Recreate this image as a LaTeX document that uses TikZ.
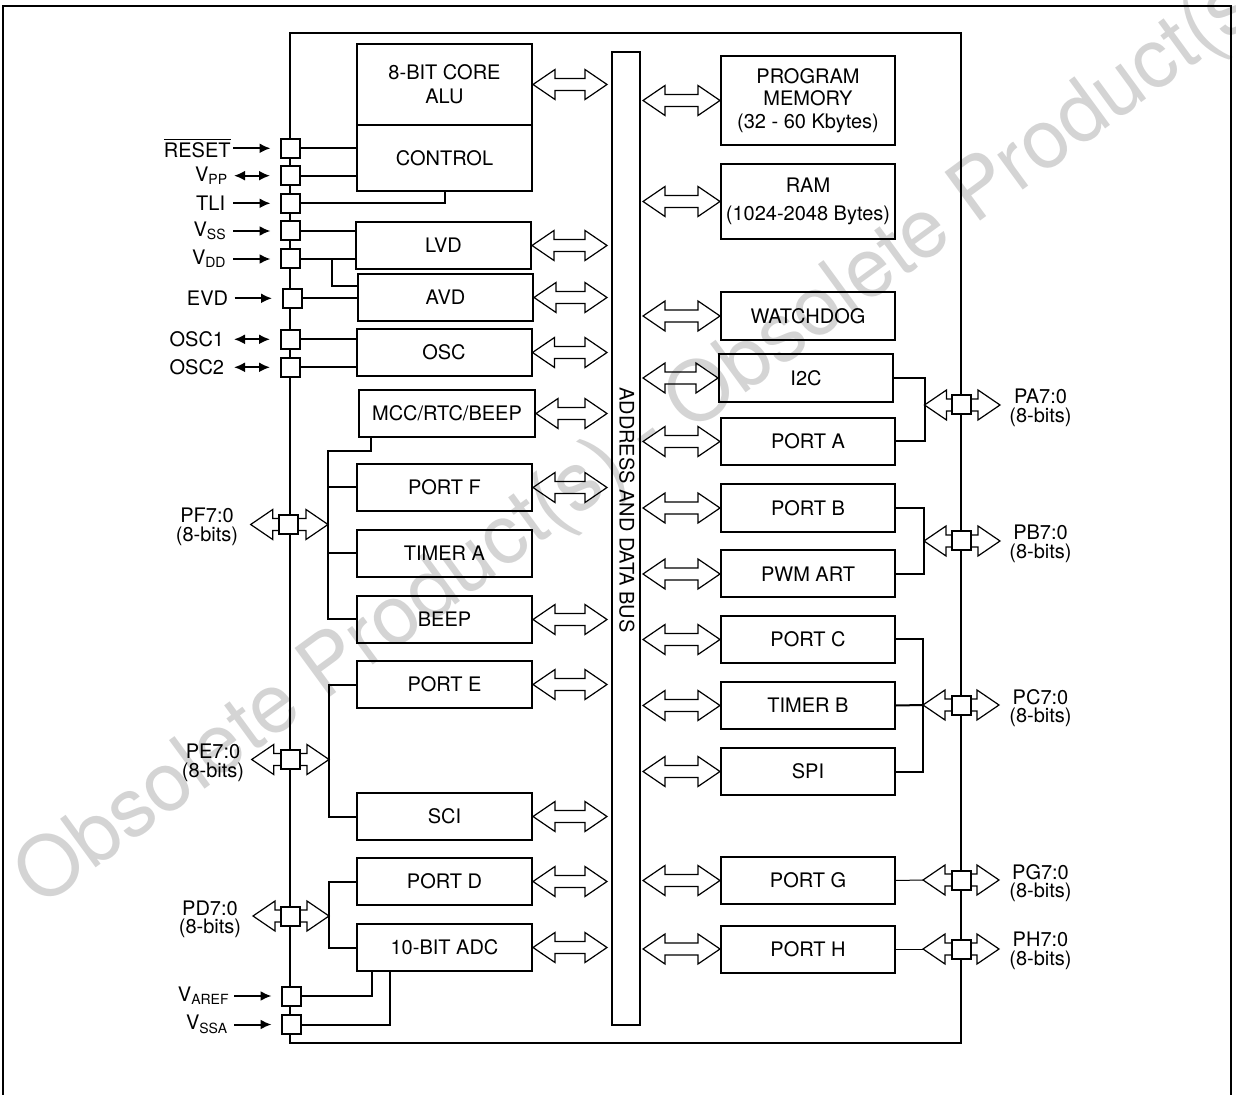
\documentclass[tikz,border=0pt]{standalone}
\usepackage{fontspec}
\setmainfont{TeX Gyre Heros}
\usepackage{tikz}
\usetikzlibrary{calc,arrows.meta,positioning}
\definecolor{wmgray}{HTML}{D4D4D4}
\tikzset{
  blk/.style={draw,line width=1pt,minimum width=87.5pt,minimum height=23.5pt,inner sep=0pt,align=center,font=\fontsize{10}{12}\selectfont},
  rblk/.style={blk,minimum width=87pt},
  pin/.style={draw,line width=1pt,fill=white,minimum size=9.5pt,inner sep=0pt},
  lbl/.style={inner sep=0pt,font=\fontsize{10}{12}\selectfont},
  plbl/.style={inner sep=0pt,align=center,font=\fontsize{10}{9.3}\selectfont},
  ar/.style={line width=1pt,-{Latex[length=5.5pt,width=5pt]}},
  dar/.style={line width=1pt,{Latex[length=5.5pt,width=5pt]}-{Latex[length=5.5pt,width=5pt]}},
  wire/.style={line width=1pt}
}
% hollow double arrow between two points (same height)
\newcommand{\hollowar}[2]{%
  \draw[line width=0.6pt,line join=miter] let \p1=#1, \p2=#2 in
    (\x1,\y1) -- ++(11pt,7.5pt) -- ++(0pt,-4.5pt) -- ($(\x2,\y1)+(-11pt,3pt)$) -- ++(0pt,4.5pt)
    -- (\x2,\y1) -- ++(-11pt,-7.5pt) -- ++(0pt,4.5pt) -- ($(\x1,\y1)+(11pt,-3pt)$) -- ++(0pt,-4.5pt) -- cycle;}

\begin{document}
\begin{tikzpicture}[x=0.5pt,y=-0.5pt]
\useasboundingbox (0,0) rectangle (1236,1095);
% watermark
\node[wmgray,rotate=36.2,inner sep=0pt,font=\fontsize{41.3}{43}\selectfont] (wm) at (648,437) {Obsolete Product(s) - Obsolete Product(s)};
% frame and chip outline
\draw[line width=0.6pt] (3,1100) -- (3,6) -- (1231,6) -- (1231,1100);
\draw[wire] (290,33) rectangle (961,1043);

% bus
\node[draw,line width=1pt,minimum width=14pt,minimum height=486.5pt,inner sep=0pt] (bus) at (626,538.5) {};
\node[lbl,rotate=-90] (buslbl) at (627,510) {ADDRESS AND DATA BUS};

% left blocks
\node[blk,minimum height=40.5pt] (core) at (444.5,84.5) {8-BIT CORE\\ALU};
\node[blk,minimum height=33pt] (ctrl) at (444.5,158) {CONTROL};
\node[blk] (lvd) at (443.5,245.5) {LVD};
\node[blk] (avd) at (445.5,297.5) {AVD};
\node[blk] (osc) at (444,352.5) {OSC};
\node[blk,minimum width=88pt] (mcc) at (447,413.5) {MCC/RTC/BEEP};
\node[blk] (portf) at (444.5,487.5) {PORT F};
\node[blk] (tima) at (444.5,553.5) {TIMER A};
\node[blk] (beep) at (444.5,619.5) {BEEP};
\node[blk] (porte) at (444.5,684.5) {PORT E};
\node[blk] (sci) at (444.5,816.5) {SCI};
\node[blk] (portd) at (444.5,881.5) {PORT D};
\node[blk] (adc) at (444.5,947.5) {10-BIT ADC};

% right blocks
\node[rblk,minimum height=44.5pt,font=\fontsize{10}{11.3}\selectfont] (pmem) at (808,100.5) {PROGRAM\\MEMORY\\(32 - 60 Kbytes)};
\node[rblk,minimum height=37.5pt] (ram) at (808,201.5) {RAM\\[2pt](1024-2048 Bytes)};
\node[rblk,minimum height=24pt] (wdog) at (808,316) {WATCHDOG};
\node[rblk,minimum height=24pt] (i2c) at (806,378) {I2C};
\node[rblk] (porta) at (808,441.5) {PORT A};
\node[rblk,minimum height=24pt] (portb) at (808,508) {PORT B};
\node[rblk] (pwm) at (808,574) {PWM ART};
\node[rblk] (portc) at (808,639.5) {PORT C};
\node[rblk] (timb) at (808,705.5) {TIMER B};
\node[rblk] (spi) at (808,771.5) {SPI};
\node[rblk] (portg) at (808,880.5) {PORT G};
\node[rblk] (porth) at (808,949) {PORT H};

% bus arrows
\foreach \b in {core,lvd,avd,osc,mcc,portf,beep,porte,sci,portd,adc}
  {\hollowar{(\b.east)}{([xshift=-2pt]bus.west |- \b.east)}}
\foreach \b in {pmem,ram,wdog,i2c,porta,portb,pwm,portc,timb,spi,portg,porth}
  {\hollowar{([xshift=1pt]bus.east |- \b.west)}{(\b.west)}}

% port junctions
\coordinate (pftop) at (328,451);
\coordinate (pfl) at (250.7,524.5);
\coordinate (pej) at (329,759.5);
\coordinate (pel) at (251.7,759.5);
\coordinate (pdj) at (329,916);
\coordinate (pdl) at (253,916);
\coordinate (paj) at (924.5,405);
\coordinate (par) at (1000,405);
\coordinate (pbj) at (924,541);
\coordinate (pbr) at (1000,541);
\coordinate (pcj) at (923,705);
\coordinate (pcr) at (999,705);
\coordinate (pgj) at (923,880);
\coordinate (pgr) at (999,880);
\coordinate (phj) at (923,949);
\coordinate (phr) at (999,949);
\coordinate (vddj) at (331.5,259);

\hollowar{(pfl)}{(pftop |- pfl)}
\hollowar{(pel)}{(pej)}
\hollowar{(pdl)}{(pdj)}
\hollowar{(paj)}{(par)}
\hollowar{(pbj)}{(pbr)}
\hollowar{(pcj)}{(pcr)}
\hollowar{(pgj)}{(pgr)}
\hollowar{(phj)}{(phr)}

% pins
\node[pin] (rst) at (290.5,148.3) {};
\node[pin] (vpp) at (290.5,175.7) {};
\node[pin] (tli) at (290.5,203.3) {};
\node[pin] (vss) at (290.5,231) {};
\node[pin] (vdd) at (290.5,259) {};
\node[pin] (evd) at (292,298.3) {};
\node[pin] (osc1) at (290.5,339.3) {};
\node[pin] (osc2) at (290.5,367.3) {};
\node[pin] (pf) at (288.5,524.5) {};
\node[pin] (pe) at (290.5,759.5) {};
\node[pin] (pd) at (290.5,916) {};
\node[pin] (vref) at (291.5,996) {};
\node[pin] (vssa) at (291.5,1024.5) {};
\node[pin] (pa) at (961.5,405) {};
\node[pin] (pb) at (961.5,541) {};
\node[pin] (pc) at (961.5,705) {};
\node[pin] (pg) at (961.5,880) {};
\node[pin] (ph) at (961.5,949) {};

% pin labels
\node[lbl,anchor=east] (rstlbl) at (231,148.3) {$\overline{\mbox{RESET}}$};
\node[lbl,anchor=east] (vpplbl) at (228.5,175.7) {V\textsubscript{PP}};
\node[lbl,anchor=east] (tlilbl) at (225.5,203.3) {TLI};
\node[lbl,anchor=east] (vsslbl) at (227,231) {V\textsubscript{SS}};
\node[lbl,anchor=east] (vddlbl) at (227,259) {V\textsubscript{DD}};
\node[lbl,anchor=east] (evdlbl) at (228.5,298.3) {EVD};
\node[lbl,anchor=east] (osc1lbl) at (224.5,339.3) {OSC1};
\node[lbl,anchor=east] (osc2lbl) at (224.5,367.3) {OSC2};
\node[lbl,anchor=east] (vreflbl) at (230,996) {V\textsubscript{AREF}};
\node[lbl,anchor=east] (vssalbl) at (228.5,1024.5) {V\textsubscript{SSA}};
\node[plbl] (pflbl) at (207,527) {PF7:0\\(8-bits)};
\node[plbl] (pelbl) at (213,763) {PE7:0\\(8-bits)};
\node[plbl] (pdlbl) at (210,919.5) {PD7:0\\(8-bits)};
\node[plbl] (palbl) at (1040.5,408) {PA7:0\\(8-bits)};
\node[plbl] (pblbl) at (1040.5,544) {PB7:0\\(8-bits)};
\node[plbl] (pclbl) at (1040.5,708) {PC7:0\\(8-bits)};
\node[plbl] (pglbl) at (1040.5,883) {PG7:0\\(8-bits)};
\node[plbl] (phlbl) at (1040.5,951) {PH7:0\\(8-bits)};

% pin arrows
\foreach \p in {rst,tli,vss,vdd,evd,vref,vssa}
  \draw[ar] ([xshift=-23.5pt]\p.west) -- ([xshift=-4.75pt]\p.west);
\foreach \p in {vpp,osc1,osc2}
  \draw[dar] ([xshift=-23pt]\p.west) -- ([xshift=-5pt]\p.west);

% wires, left
\draw[wire] (rst.east) -- (rst.east -| ctrl.west);
\draw[wire] (vpp.east) -- (vpp.east -| ctrl.west);
\draw[wire] (tli.east) -| (ctrl.south);
\draw[wire] (vss.east) -- (vss.east -| lvd.west);
\draw[wire] (vdd.east) -- (vdd.east -| lvd.west);
\draw[wire] (vddj) |- ([yshift=5.75pt]avd.west);
\draw[wire] (evd.east) -- (evd.east -| avd.west);
\draw[wire] (osc1.east) -- (osc1.east -| osc.west);
\draw[wire] (osc2.east) -- (osc2.east -| osc.west);
\draw[wire] ([xshift=-38pt]mcc.south) |- (pftop) -- (pftop |- beep.west) -- (beep.west);
\draw[wire] (pftop |- portf.west) -- (portf.west);
\draw[wire] (pftop |- tima.west) -- (tima.west);
\draw[wire] (porte.west) -| (pej) |- (sci.west);
\draw[wire] (portd.west) -| (pdj) |- (adc.west);
\draw[wire] (vref.east) -| ([xshift=-36.5pt]adc.south);
\draw[wire] (vssa.east) -| ([xshift=-27.25pt]adc.south);

% wires, right
\draw[wire] (i2c.east) -| (paj) |- (porta.east);
\draw[wire] (portb.east) -| (pbj) |- (pwm.east);
\draw[wire] (portc.east) -| (pcj) |- (spi.east);
\draw[wire] (timb.east) -- (pcj);
\draw[line width=0.5pt] (portg.east) -- (pgj);
\draw[line width=0.5pt] (porth.east) -- (phj);
\end{tikzpicture}
\end{document}
